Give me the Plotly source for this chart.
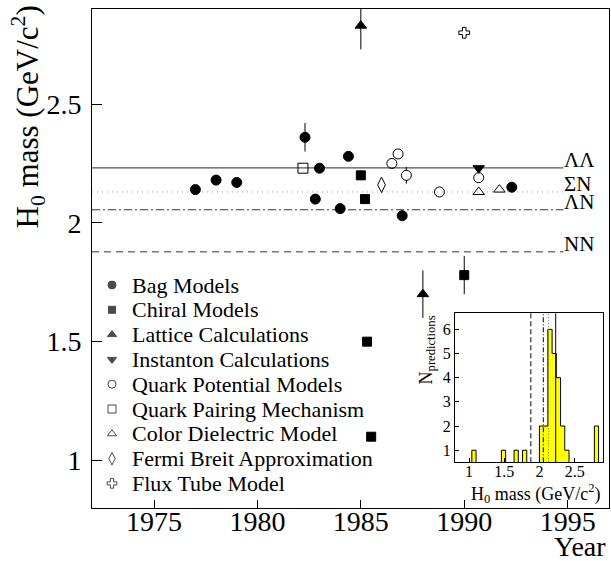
import plotly.graph_objects as go

FONT = "Liberation Serif"

# ---------------- data ----------------
bag_year = [1977.0, 1978.0, 1979.0, 1982.3, 1982.8, 1983.0, 1984.0, 1984.4, 1987.0, 1992.3]
bag_mass = [2.14, 2.18, 2.17, 2.36, 2.10, 2.23, 2.06, 2.28, 2.03, 2.15]
bag_err = [0, 0, 0, 0.06, 0, 0, 0, 0, 0, 0]

chiral_year = [1985.0, 1985.2, 1985.3, 1985.5, 1990.0]
chiral_mass = [2.20, 2.10, 1.50, 1.10, 1.78]
chiral_err = [0, 0, 0, 0, 0.08]

lattice_year = [1985.0, 1988.0]
lattice_mass = [2.83, 1.70]
lattice_err = [0.10, 0.10]

instanton_year = [1990.7]
instanton_mass = [2.23]

qpot_year = [1986.5, 1986.8, 1987.2, 1988.8, 1990.7]
qpot_mass = [2.25, 2.29, 2.20, 2.13, 2.19]
qpot_err = [0, 0, 0.035, 0, 0]

qpair_year = [1982.2]
qpair_mass = [2.23]

cdm_year = [1990.7, 1991.7]
cdm_mass = [2.13, 2.14]

fermi_year = [1986.0]
fermi_mass = [2.16]

flux_year = [1990.0]
flux_mass = [2.80]

threshold_names = ["ΛΛ", "ΣN", "ΛN", "NN"]
threshold_mass = [2.231, 2.130, 2.055, 1.878]

# histogram of predictions (inset): bins of 0.06 GeV from 0.8 to 2.9
hist_start = 0.8
hist_width = 0.06
hist_counts = [0, 0, 0, 0, 1, 0, 0, 0, 0, 0, 0, 1, 0, 0, 1, 0, 1, 0, 0, 0,
               2, 2, 6, 5, 4, 2, 1, 0, 0, 0, 0, 0, 0, 2, 0]

year_ticks = [1975, 1980, 1985, 1990, 1995]
mass_ticks = [1, 1.5, 2, 2.5]
inset_xticks = [1, 1.5, 2, 2.5]
inset_yticks = [1, 2, 3, 4, 5, 6]

legend_labels = ["Bag Models", "Chiral Models", "Lattice Calculations",
                 "Instanton Calculations", "Quark Potential Models",
                 "Quark Pairing Mechanism", "Color Dielectric Model",
                 "Fermi Breit Approximation", "Flux Tube Model"]

# ---------------- figure ----------------
fig = go.Figure()

series = [
    (bag_year, bag_mass, bag_err, "circle", 10, True),
    (chiral_year, chiral_mass, chiral_err, "square", 9, True),
    (lattice_year, lattice_mass, lattice_err, "triangle-up", 10, True),
    (instanton_year, instanton_mass, None, "triangle-down", 10, True),
    (qpot_year, qpot_mass, qpot_err, "circle", 10, False),
    (qpair_year, qpair_mass, None, "square-open", 10, True),
    (cdm_year, cdm_mass, None, "triangle-up-open", 10, True),
    (fermi_year, fermi_mass, None, "diamond-tall-open", 11, True),
    (flux_year, flux_mass, None, "cross-open", 9, True),
]
legend_symbols = ["circle", "square", "triangle-up", "triangle-down", "circle-open",
                  "square-open", "triangle-up-open", "diamond-tall-open", "cross-open"]

for (xs, ys, err, sym, size, solid), name in zip(series, legend_labels):
    kw = {}
    if err is not None:
        kw["error_y"] = dict(type="data", array=err, visible=True,
                             thickness=1, width=0, color="black")
    if solid:
        color = "black"
    else:
        # hollow circles; the one carrying an error bar is filled white so the
        # bar stops at the marker edge, as in the original
        color = ["white" if e > 0 else "rgba(0,0,0,0)" for e in err]
    fig.add_trace(go.Scatter(
        x=xs, y=ys, mode="markers", name=name, showlegend=False,
        marker=dict(symbol=sym, size=size, color=color,
                    line=dict(color="black", width=1)),
        xaxis="x", yaxis="y", **kw))

# threshold lines in main plot + labels
line_styles = [
    dict(color="#555555", width=1.2, dash="solid"),
    dict(color="#999999", width=1, dash="1px,4px"),
    dict(color="#333333", width=1, dash="8px,3px,2px,3px"),
    dict(color="#333333", width=1, dash="7px,5px"),
]
inset_styles = [
    dict(color="black", width=1, dash="solid"),
    dict(color="#666666", width=1, dash="1px,2px"),
    dict(color="black", width=1, dash="5px,2px,1px,2px"),
    dict(color="black", width=1, dash="5px,3px"),
]
for name, m, st in zip(threshold_names, threshold_mass, line_styles):
    fig.add_shape(type="line", xref="x", yref="y", x0=1972, x1=1994.8,
                  y0=m, y1=m, line=st, layer="below")
    fig.add_annotation(xref="x", yref="y", x=1994.75, y=m, text=name,
                       showarrow=False, xanchor="left", yanchor="middle",
                       yshift=8, font=dict(family=FONT, size=21, color="black"))

# ---------------- inset histogram ----------------
centers = [hist_start + hist_width * (i + 0.5) for i in range(len(hist_counts))]
edges = [hist_start + hist_width * i for i in range(len(hist_counts) + 1)]
fig.add_trace(go.Bar(x=centers, y=hist_counts, width=hist_width,
                     marker=dict(color="#ffff00", line=dict(width=0)),
                     showlegend=False, xaxis="x2", yaxis="y2"))
fig.add_trace(go.Scatter(x=edges, y=hist_counts + [hist_counts[-1]],
                         mode="lines", line=dict(shape="hv", color="black", width=1),
                         showlegend=False, xaxis="x2", yaxis="y2"))
for m, ist in zip(threshold_mass, inset_styles):
    fig.add_shape(type="line", xref="x2", yref="y2 domain", x0=m, x1=m,
                  y0=0, y1=1, line=ist, layer="above")

# ---------------- legend (drawn manually to match line spacing) ----------------
leg_rows = [276 + 24.8 * i for i in range(len(legend_labels))]
fig.add_trace(go.Scatter(
    x=[20] * len(legend_labels), y=leg_rows, mode="markers", showlegend=False,
    marker=dict(symbol=legend_symbols, size=[8, 7, 8, 8, 8, 8, 8, 9, 8],
                color="black", line=dict(color="black", width=1)),
    xaxis="x3", yaxis="y3", hoverinfo="skip"))
for lab, yy in zip(legend_labels, leg_rows):
    fig.add_annotation(xref="x3", yref="y3", x=38, y=yy, text=lab,
                       showarrow=False, xanchor="left", yanchor="middle",
                       font=dict(family=FONT, size=22, color="black"))

# axis titles
fig.add_annotation(xref="paper", yref="paper", x=-0.124, y=1.012,
                   text="H<sub>0</sub> mass (GeV/c<sup>2</sup>)", textangle=-90,
                   showarrow=False, xanchor="center", yanchor="top",
                   font=dict(family=FONT, size=31, color="black"))
fig.add_annotation(xref="paper", yref="paper", x=0.998, y=-0.078,
                   text="Year", showarrow=False, xanchor="right", yanchor="middle",
                   font=dict(family=FONT, size=28, color="black"))
fig.add_annotation(xref="paper", yref="paper", x=0.988, y=0.030,
                   text="H<sub>0</sub> mass (GeV/c<sup>2</sup>)", showarrow=False,
                   xanchor="right", yanchor="middle",
                   font=dict(family=FONT, size=18, color="black"))
fig.add_annotation(xref="paper", yref="paper", x=0.648, y=0.389,
                   text="N<sub>predictions</sub>", textangle=-90, showarrow=False,
                   xanchor="center", yanchor="top",
                   font=dict(family=FONT, size=18, color="black"))

axis_common = dict(showgrid=False, zeroline=False, showline=True, linecolor="black",
                   linewidth=1, mirror=True, ticks="inside", tickcolor="black")

fig.update_layout(
    width=611, height=561,
    margin=dict(l=92, r=2, t=9, b=53),
    paper_bgcolor="white", plot_bgcolor="white",
    showlegend=False,
    font=dict(family=FONT, color="black"),
    bargap=0,
    xaxis=dict(range=[1972, 1997], tickvals=year_ticks, ticklen=8,
               tickfont=dict(family=FONT, size=28), ticklabelstandoff=-12,
               domain=[0, 1], anchor="y", **axis_common),
    yaxis=dict(range=[0.8, 2.9], tickvals=mass_ticks, ticktext=["1", "1.5", "2", "2.5"],
               ticklen=10, tickfont=dict(family=FONT, size=28), ticklabelstandoff=4,
               domain=[0, 1], anchor="x", **axis_common),
    xaxis2=dict(range=[0.8, 2.9], tickvals=inset_xticks, ticktext=["1", "1.5", "2", "2.5"],
                ticklen=4, tickfont=dict(family=FONT, size=16), ticklabelstandoff=-5,
                domain=[0.702, 0.988], anchor="y2", **axis_common),
    yaxis2=dict(range=[0.5, 6.66], tickvals=inset_yticks, ticklen=4,
                tickfont=dict(family=FONT, size=16), ticklabelstandoff=0,
                domain=[0.0916, 0.390], anchor="x2", **axis_common),
    xaxis3=dict(range=[0, 517], visible=False, overlaying="x", anchor="y3"),
    yaxis3=dict(range=[499, 0], visible=False, overlaying="y", anchor="x3"),
)

fig.write_html("out.html",
               config={"displayModeBar": False},
               post_script="document.body.style.margin='0px';"
                           "document.body.style.overflow='hidden';")
